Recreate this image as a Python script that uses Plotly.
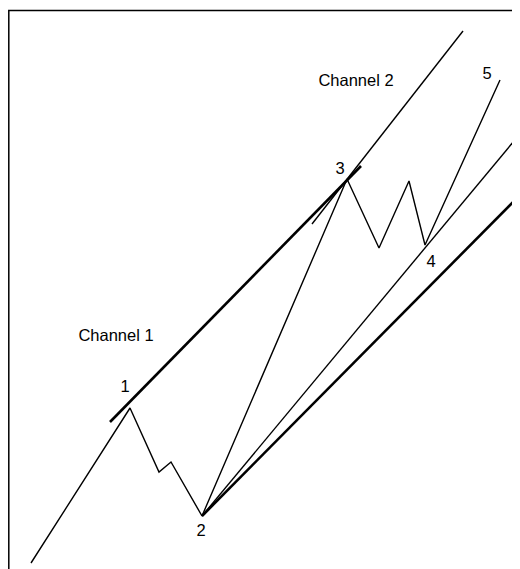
import plotly.graph_objects as go

# Elliott-wave price path (time units, price units)
wave_x = [31, 130, 159, 171, 202, 347, 379, 409, 425, 500]
wave_y = [6, 161, 97, 107, 53, 390, 321, 388, 324, 489]

# Channel lines: [x_start, x_end], [y_start, y_end]
ch1_upper_x = [110, 361]
ch1_upper_y = [147, 403]
ch1_lower_x = [202, 520]
ch1_lower_y = [53, 374]
ch2_upper_x = [312, 463]
ch2_upper_y = [345, 538]
ch2_lower_x = [202, 514]
ch2_lower_y = [53, 428]

# Labels
label_text = ["Channel 1", "Channel 2", "1", "2", "3", "4", "5"]
label_x = [116, 356, 125, 201, 340, 431, 487]
label_y = [232, 487, 181, 37, 399, 306, 494]

W, H = 520, 569
PAD = 8  # default page margin around the figure
FW, FH = W - PAD, H - PAD
fig = go.Figure()

thin = dict(color="black", width=1.4)
thick = dict(color="black", width=2.6)

fig.add_trace(go.Scatter(x=wave_x, y=wave_y, mode="lines", line=thin, hoverinfo="skip"))
fig.add_trace(go.Scatter(x=ch1_upper_x, y=ch1_upper_y, mode="lines", line=thick, hoverinfo="skip"))
fig.add_trace(go.Scatter(x=ch1_lower_x, y=ch1_lower_y, mode="lines", line=thick, hoverinfo="skip"))
fig.add_trace(go.Scatter(x=ch2_upper_x, y=ch2_upper_y, mode="lines", line=thin, hoverinfo="skip"))
fig.add_trace(go.Scatter(x=ch2_lower_x, y=ch2_lower_y, mode="lines", line=thin, hoverinfo="skip"))

fig.add_trace(go.Scatter(
    x=label_x, y=label_y, mode="text", text=label_text,
    textfont=dict(family="Liberation Sans, Arial, sans-serif", size=16.5, color="black"),
    textposition="middle center", hoverinfo="skip"))

# Frame (extends past right and bottom edges)
fig.add_shape(type="rect", xref="paper", yref="paper",
              x0=0.8 / FW, x1=1.1, y0=-0.1, y1=1 - 2.5 / FH,
              line=dict(color="black", width=1.5))

fig.update_layout(
    width=FW, height=FH, margin=dict(l=0, r=0, t=0, b=0),
    paper_bgcolor="white", plot_bgcolor="white", showlegend=False,
    xaxis=dict(range=[PAD, W], visible=False, fixedrange=True),
    yaxis=dict(range=[0, FH], visible=False, fixedrange=True),
)

fig.write_html("out.html", config={"displayModeBar": False})
